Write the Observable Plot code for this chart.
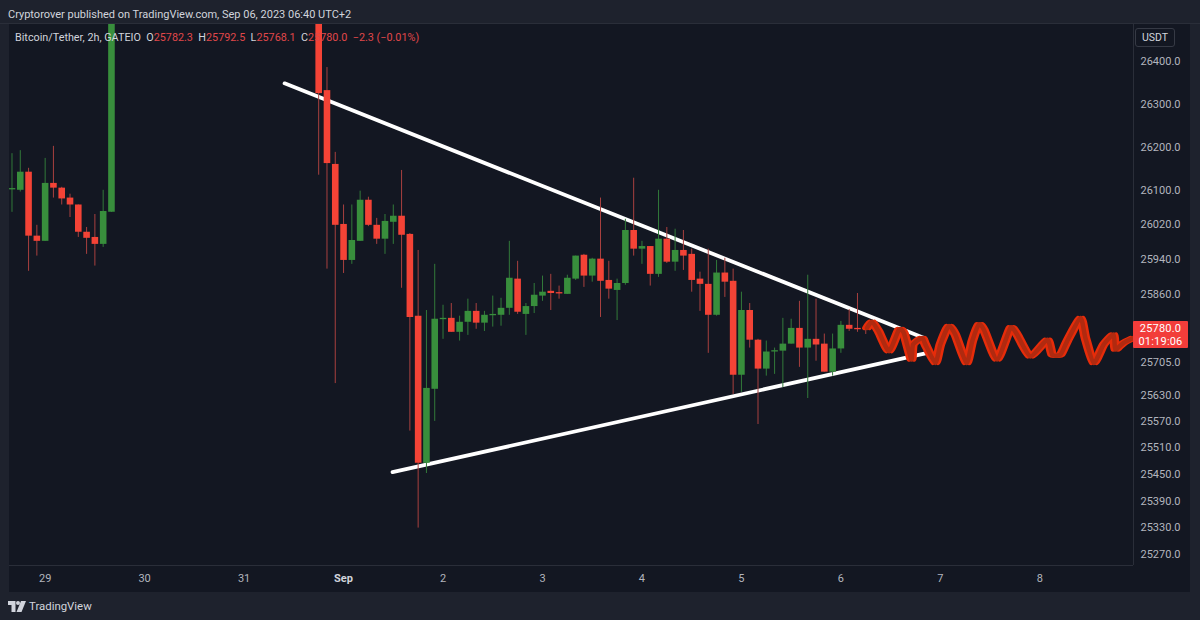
<!DOCTYPE html>
<html>
<head>
<meta charset="utf-8">
<script src="https://cdn.jsdelivr.net/npm/d3@7"></script>
<script src="https://cdn.jsdelivr.net/npm/@observablehq/plot@0.6"></script>
<style>
html,body{margin:0;padding:0;background:#1e222d;width:1200px;height:620px;overflow:hidden}
body{position:relative;font-family:Roboto,Inter,sans-serif;color:#d1d4dc}
#head{height:23px;line-height:29px;padding-left:8px;font-size:11px;color:#d1d4dc;border-bottom:1px solid #2a2e39;box-sizing:content-box}
#chart{margin-left:9px;height:568px;width:1181px}
#chart svg{display:block;background:#131722}
#foot{position:absolute;left:8px;top:597px;height:18px;display:flex;align-items:center;gap:3px;font-size:11.4px;color:#d1d4dc}
#legend{position:absolute;left:15px;top:31px;font-size:10.8px;white-space:pre;color:#d1d4dc}
#legend b{font-weight:400;color:#e0474a}
#usdt{position:absolute;left:1135px;top:28px;width:38px;height:17px;line-height:17px;text-align:center;border:1px solid #363a45;border-radius:3px;font-size:10.5px;color:#d1d4dc}
#tag{position:absolute;left:1133px;top:321px;width:55px;height:27px;background:#f23d3a;color:#fff;font-size:11px;line-height:13px;text-align:center;padding-top:1px;box-sizing:border-box;border-radius:1px;letter-spacing:.2px}
</style>
</head>
<body>
<div id="head">Cryptorover published on TradingView.com, Sep 06, 2023 06:40 UTC+2</div>
<div id="chart"></div>
<div id="legend">Bitcoin/Tether, 2h, GATEIO  O<b>25782.3</b>  H<b>25792.5</b>  L<b>25768.1</b>  C<b>25780.0</b>  <b>−2.3 (−0.01%)</b></div>
<div id="usdt">USDT</div>
<div id="tag">25780.0<br>01:19:06</div>
<div id="foot"><svg width="18" height="11" viewBox="0 0 36 22"><path fill="#d1d4dc" d="M0 0h15v22H7V8H0z"/><circle cx="20" cy="4" r="4" fill="#d1d4dc"/><path fill="#d1d4dc" d="M26 0h10l-9 22H17z"/></svg><span>TradingView</span></div>
<script>
// Candle position: number of 2h bars from 1 Sep 00:00
const candleIndex = [...d3.range(-40, -27), ...d3.range(-3, 64)];
const opens = [
  26101,26100,26142,25994,25982,26116,26105,26082,26066,26003,25991,25975,26049,
  26560,26332,26160,26021,25938,25982,26077,26019,25987,26026,26040,25998,25810,25475,25643,
  25802,25805,25773,25796,25821,25794,25811,25812,25828,25895,25814,25832,25856,25867,25864,
  25860,25895,25950,25902,25941,25892,25869,25885,26007,25964,25970,25906,25987,25934,25961,
  25952,25895,25883,25812,25909,25890,25675,25823,25755,25689,25728,25730,25746,25782,25737,
  25757,25746,25682,25735,25789,25782,25782.3];
const highs = [
  26185,26192,26151,26019,26174,26202,26107,26091,26066,26014,26044,26100,26620,
  26600,26386,26188,26066,26066,26098,26084,26035,26044,26066,26146,26000,25961,25823,25929,
  25835,25839,25810,25849,25839,25821,25856,25851,25982,25936,25839,25885,25902,25906,25879,
  25904,25948,25952,25943,26082,25936,25895,26033,26128,25982,25970,26100,26014,26010,26007,
  25964,25911,25964,25938,25943,25918,25865,25839,25757,25753,25737,25805,25803,25844,25904,
  25849,25769,25769,25798,25825,25862,25792.5];
const lows = [
  26049,26096,25913,25948,25982,26082,26066,26037,25991,25952,25925,25968,26049,
  26135,25918,25656,25908,25929,25982,26016,25975,25952,25975,25874,25548,25329,25452,25570,
  25757,25773,25753,25766,25780,25775,25785,25787,25812,25814,25766,25816,25844,25823,25849,
  25860,25892,25876,25888,25807,25849,25800,25881,25948,25929,25879,25899,25931,25913,25915,
  25865,25821,25725,25810,25853,25631,25636,25737,25563,25673,25677,25647,25746,25693,25622,
  25707,25682,25673,25725,25775,25773,25768.1];
const closes = [
  26104,26142,25994,25982,26116,26105,26080,26066,26003,25989,25975,26051,26600,
  26325,26162,26019,25938,25984,26077,26019,25987,26028,26040,25996,25807,25475,25645,25803,
  25805,25773,25796,25821,25794,25812,25814,25828,25897,25819,25832,25858,25865,25862,25861,
  25897,25948,25902,25941,25890,25872,25885,26007,25964,25970,25906,25987,25934,25961,25948,
  25892,25883,25812,25909,25888,25675,25823,25755,25689,25728,25731,25746,25782,25737,25757,
  25744,25682,25735,25789,25780,25779,25780];

const priceTicks = [26400,26300,26200,26100,26020,25940,25860,25705,25630,25570,25510,25450,25390,25330,25270];
const dayTicks = ["2023-08-29","2023-08-30","2023-08-31","2023-09-02","2023-09-03","2023-09-04","2023-09-05","2023-09-06","2023-09-07","2023-09-08"];
const monthTicks = ["2023-09-01"];

const upperTimes = ["2023-08-31T09:46Z","2023-09-06T20:23Z"];
const upperPrices = [26349,25759];
const lowerTimes = ["2023-09-01T11:49Z","2023-09-06T20:23Z"];
const lowerPrices = [25455,25725];

// Hand-drawn scribble: hours after 1 Sep 00:00, and price
const scribbleHours = [126.3,127.5,129.1,131.6,134,135.2,137,137.4,139.6,140.4,142.8,144,146,147.6,150.3,151.7,153.3,154.5,157.7,160.9,162.5,165.7,169.8,171,173,174.6,177.8,179,181,183.4,185.8,186.2,188.2,190.5];
const scribblePrices = [25783,25797,25775,25730,25779,25771,25711,25745,25760,25745,25703,25745,25787,25768,25703,25753,25791,25779,25711,25783,25768,25718,25756,25722,25722,25753,25806,25760,25703,25745,25768,25734,25749,25760];

const sep1 = Date.UTC(2023, 8, 1);
const hourTime = h => new Date(sep1 + h * 3600e3);
const candles = candleIndex.map((n, i) => ({t: hourTime(n * 2), o: opens[i], h: highs[i], l: lows[i], c: closes[i]}));
const up = candles.filter(d => d.c >= d.o);
const down = candles.filter(d => d.c < d.o);
const upper = upperTimes.map((t, i) => ({t: new Date(t), p: upperPrices[i]}));
const lower = lowerTimes.map((t, i) => ({t: new Date(t), p: lowerPrices[i]}));
const scribble = scribbleHours.map((h, i) => ({t: hourTime(h), p: scribblePrices[i]}));

const RED = "#f44336", GREEN = "#388e3c", RED_W = "#a8403f", GREEN_W = "#327a3a", GRID = "#2a2e39", TXT = "#b2b5be";
const t0 = hourTime(-80.6), t1 = hourTime(190.6);
const pMin = 25245, pMax = 26487;
const brush = {x: "t", y: "p", curve: "cardinal", tension: 0.4, strokeLinejoin: "round", strokeLinecap: "round", clip: true};

const chart = Plot.plot({
  width: 1181, height: 568,
  marginLeft: 0, marginRight: 57, marginTop: 0, marginBottom: 27,
  style: {background: "#131722", fontFamily: "Roboto,Inter,sans-serif"},
  x: {type: "utc", domain: [t0, t1]},
  y: {type: "log", domain: [pMin, pMax]},
  marks: [
    Plot.lineY(upper, {x: "t", y: "p", stroke: "#fff", strokeWidth: 3.8, strokeLinecap: "round"}),
    Plot.lineY(lower, {x: "t", y: "p", stroke: "#fff", strokeWidth: 3.8, strokeLinecap: "round"}),
    Plot.ruleX(down, {x: "t", y1: "l", y2: "h", stroke: RED_W, strokeWidth: 1, clip: true}),
    Plot.ruleX(up, {x: "t", y1: "l", y2: "h", stroke: GREEN_W, strokeWidth: 1, clip: true}),
    Plot.ruleX(down, {x: "t", y1: "o", y2: "c", stroke: RED, strokeWidth: 6.6, clip: true}),
    Plot.ruleX(up, {x: "t", y1: "o", y2: "c", stroke: GREEN, strokeWidth: 6.6, clip: true}),
    Plot.line(scribble, {...brush, stroke: "#e62c0a", strokeWidth: 4.5, dx: -2.6}),
    Plot.line(scribble, {...brush, stroke: "#e62c0a", strokeWidth: 4.5, dx: 2.6}),
    Plot.line(scribble, {...brush, stroke: "#b02a10", strokeWidth: 4.5}),
    Plot.ruleX([t1], {stroke: GRID}),
    Plot.ruleY([pMin], {stroke: GRID}),
    Plot.axisY(priceTicks, {anchor: "right", tickSize: 0, tickPadding: 7, label: null, tickFormat: d => d.toFixed(1), fontSize: 11, color: TXT}),
    Plot.axisX(dayTicks.map(d => new Date(d)), {anchor: "bottom", tickSize: 0, tickPadding: 9, label: null, tickFormat: d => String(d.getUTCDate()), fontSize: 11, color: TXT}),
    Plot.axisX(monthTicks.map(d => new Date(d)), {anchor: "bottom", tickSize: 0, tickPadding: 9, label: null, tickFormat: () => "Sep", fontSize: 11, fontWeight: "bold", color: "#d1d4dc"})
  ]
});
document.getElementById("chart").appendChild(chart);
</script>
</body>
</html>
